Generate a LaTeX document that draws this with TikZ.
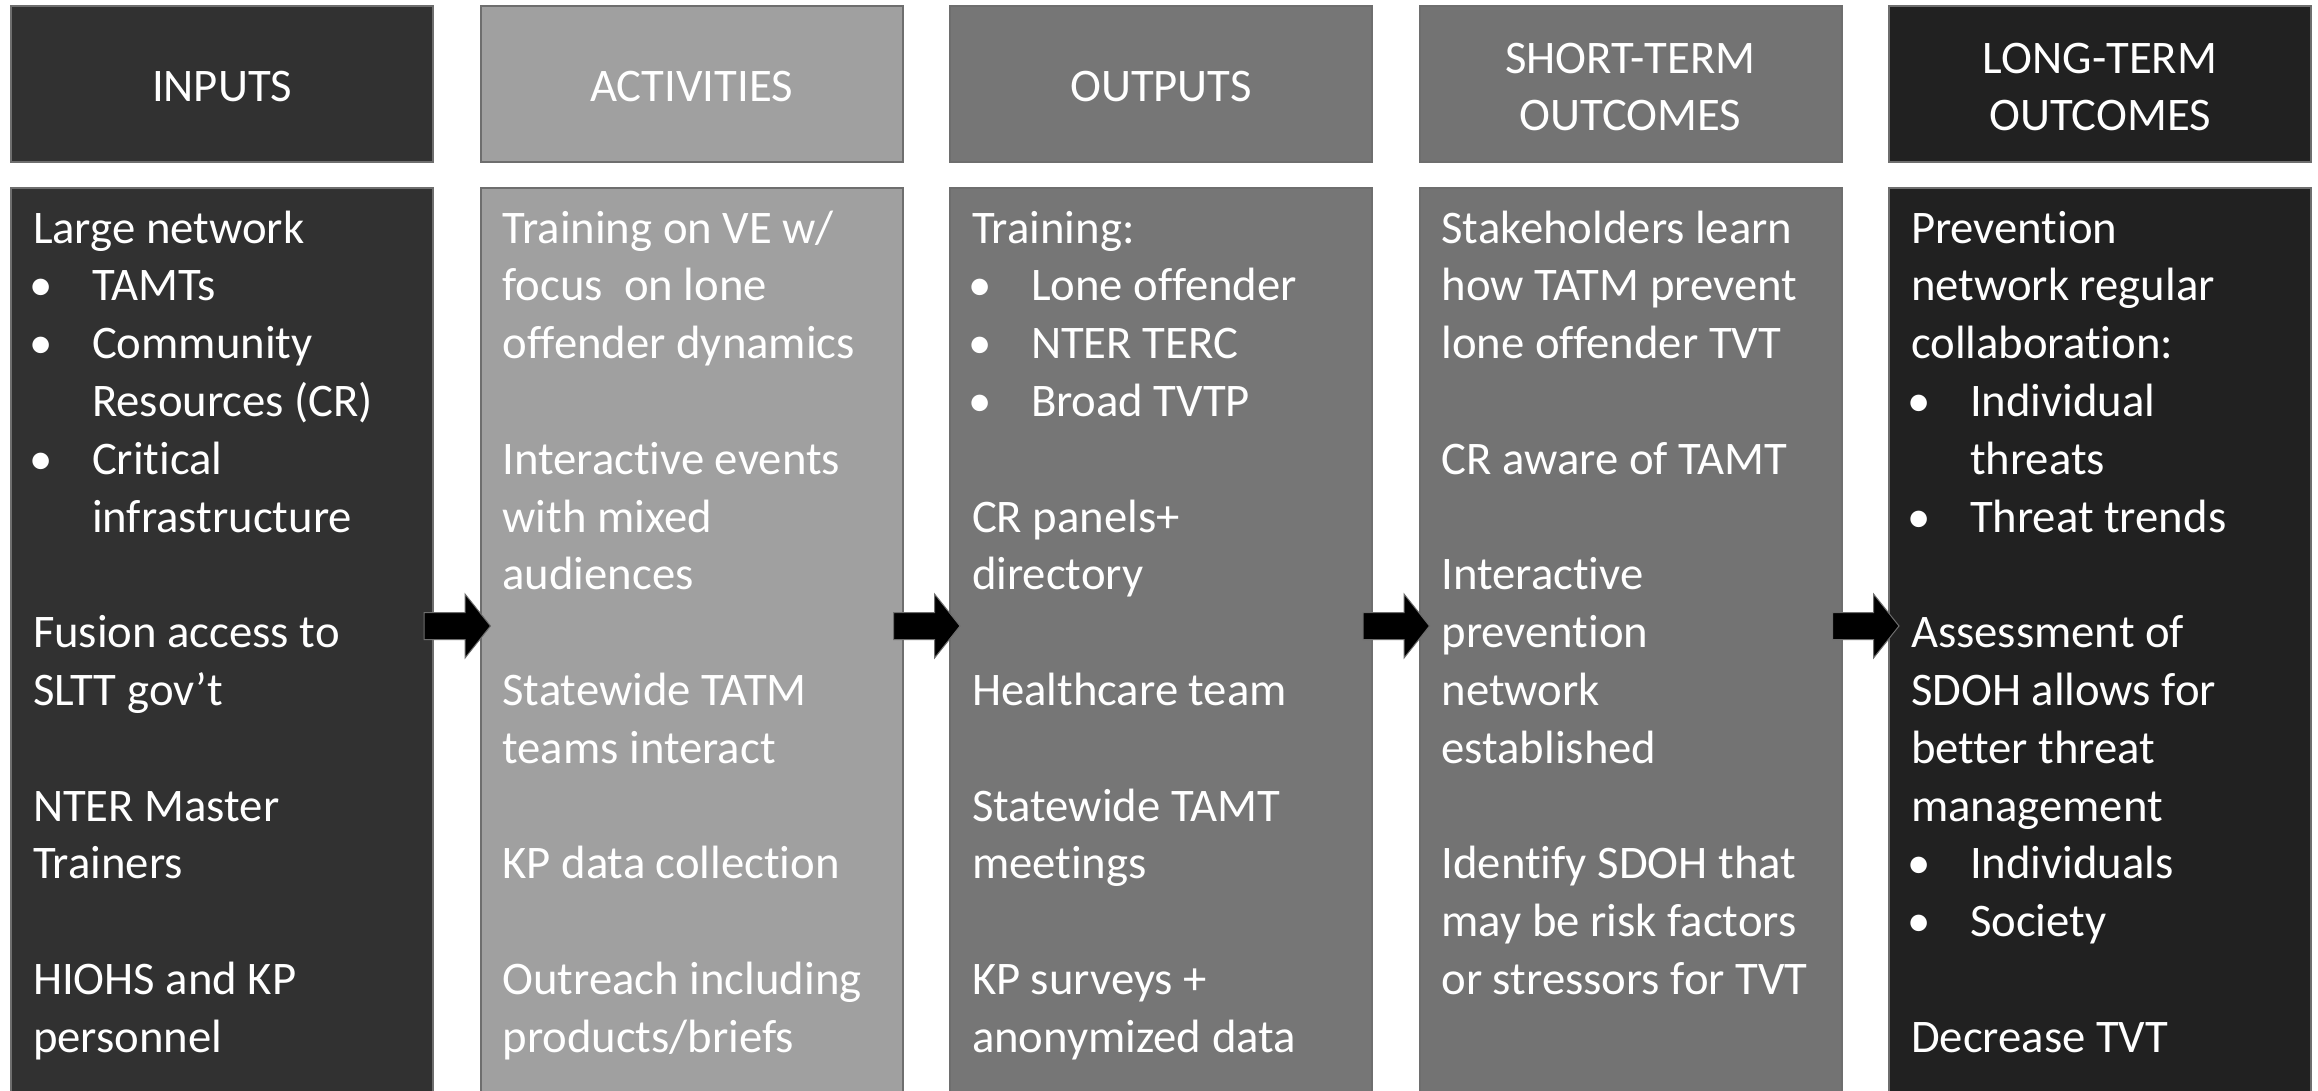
\documentclass[tikz,border=0pt]{standalone}
\usepackage{fontspec}
\setmainfont{Carlito}[Ligatures=NoCommon]
\usetikzlibrary{calc}
\definecolor{cIn}{HTML}{313131}
\definecolor{cAct}{HTML}{A0A0A0}
\definecolor{cOut}{HTML}{767676}
\definecolor{cSt}{HTML}{737373}
\definecolor{cLt}{HTML}{212121}
\definecolor{cBd}{HTML}{6E6E6E}
\newcommand\myfont{\fontsize{46.7}{57.8}\selectfont}
% plain line: column, line index, text
\newcommand\Tx[3]{\node[txt] (t#1-#2) at ($(b#1.north west)+(22,55+57.8*#2)$) {#3};}
% continuation (indented) line
\newcommand\Cx[3]{\node[txt] (t#1-#2) at ($(b#1.north west)+(81,55+57.8*#2)$) {#3};}
% bullet line
\newcommand\Bx[3]{\node[txt] (u#1-#2) at ($(b#1.north west)+(18,55+57.8*#2)$) {•};
  \node[txt] (t#1-#2) at ($(b#1.north west)+(81,55+57.8*#2)$) {#3};}
\begin{document}
\begin{tikzpicture}[x=1pt,y=-1pt,
  box/.style={draw=cBd, line width=2pt, anchor=north west, minimum width=422pt, inner sep=0pt, outer sep=0pt},
  head/.style={box, minimum height=156pt},
  htxt/.style={text=white, align=center, inner sep=0pt, outer sep=0pt, font=\myfont},
  body/.style={box, minimum height=940pt},
  txt/.style={anchor=base west, inner sep=0pt, outer sep=0pt, text=white, font=\myfont},
  barrow/.style={fill=black, draw=cBd, line width=1pt, line join=miter}]
\useasboundingbox (0,0) rectangle (2318,1090);
\clip (0,0) rectangle (2318,1090);
\fill[white] (0,0) rectangle (2318,1090);

% headers
\node[head, fill=cIn]  (h1) at (11,6)     {};
\node[head, fill=cAct] (h2) at (480.5,6)  {};
\node[head, fill=cOut] (h3) at (950,6)    {};
\node[head, fill=cSt]  (h4) at (1419.5,6) {};
\node[head, fill=cLt]  (h5) at (1889,6)   {};
\node[htxt] (l1) at ($(h1.center)+(0,3)$) {INPUTS};
\node[htxt] (l2) at ($(h2.center)+(0,3)$) {ACTIVITIES};
\node[htxt] (l3) at ($(h3.center)+(0,3)$) {OUTPUTS};
\node[htxt] (l4) at ($(h4.center)+(0,3)$) {SHORT-TERM\\OUTCOMES};
\node[htxt] (l5) at ($(h5.center)+(0,3)$) {LONG-TERM\\OUTCOMES};

% bodies
\node[body, fill=cIn]  (b1) at (11,188)     {};
\node[body, fill=cAct] (b2) at (480.5,188)  {};
\node[body, fill=cOut] (b3) at (950,188)    {};
\node[body, fill=cSt]  (b4) at (1419.5,188) {};
\node[body, fill=cLt]  (b5) at (1889,188)   {};

% INPUTS
\Tx{1}{0}{Large network}
\Bx{1}{1}{TAMTs}
\Bx{1}{2}{Community}
\Cx{1}{3}{Resources (CR)}
\Bx{1}{4}{Critical}
\Cx{1}{5}{infrastructure}
\Tx{1}{7}{Fusion access to}
\Tx{1}{8}{SLTT gov’t}
\Tx{1}{10}{NTER Master}
\Tx{1}{11}{Trainers}
\Tx{1}{13}{HIOHS and KP}
\Tx{1}{14}{personnel}

% ACTIVITIES
\Tx{2}{0}{Training on VE w/}
\Tx{2}{1}{focus\ \ on lone}
\Tx{2}{2}{offender dynamics}
\Tx{2}{4}{Interactive events}
\Tx{2}{5}{with mixed}
\Tx{2}{6}{audiences}
\Tx{2}{8}{Statewide TATM}
\Tx{2}{9}{teams interact}
\Tx{2}{11}{KP data collection}
\Tx{2}{13}{Outreach including}
\Tx{2}{14}{products/briefs}

% OUTPUTS
\Tx{3}{0}{Training:}
\Bx{3}{1}{Lone offender}
\Bx{3}{2}{NTER TERC}
\Bx{3}{3}{Broad TVTP}
\Tx{3}{5}{CR panels+}
\Tx{3}{6}{directory}
\Tx{3}{8}{Healthcare team}
\Tx{3}{10}{Statewide TAMT}
\Tx{3}{11}{meetings}
\Tx{3}{13}{KP surveys +}
\Tx{3}{14}{anonymized data}

% SHORT-TERM OUTCOMES
\Tx{4}{0}{Stakeholders learn}
\Tx{4}{1}{how TATM prevent}
\Tx{4}{2}{lone offender TVT}
\Tx{4}{4}{CR aware of TAMT}
\Tx{4}{6}{Interactive}
\Tx{4}{7}{prevention}
\Tx{4}{8}{network}
\Tx{4}{9}{established}
\Tx{4}{11}{Identify SDOH that}
\Tx{4}{12}{may be risk factors}
\Tx{4}{13}{or stressors for TVT}

% LONG-TERM OUTCOMES
\Tx{5}{0}{Prevention}
\Tx{5}{1}{network regular}
\Tx{5}{2}{collaboration:}
\Bx{5}{3}{Individual}
\Cx{5}{4}{threats}
\Bx{5}{5}{Threat trends}
\Tx{5}{7}{Assessment of}
\Tx{5}{8}{SDOH allows for}
\Tx{5}{9}{better threat}
\Tx{5}{10}{management}
\Bx{5}{11}{Individuals}
\Bx{5}{12}{Society}
\Tx{5}{14}{Decrease TVT}

% block arrows between columns
\foreach \a/\b in {b1/b2, b2/b3, b3/b4, b4/b5}{
  \draw[barrow] ($(\a.north east)+(-9,424.5)$) -- ($(\a.north east)+(32,424.5)$)
    -- ($(\a.north east)+(32,406)$) -- ($(\b.north west)+(10,438)$)
    -- ($(\a.north east)+(32,470)$) -- ($(\a.north east)+(32,451.5)$)
    -- ($(\a.north east)+(-9,451.5)$) -- cycle;
}
\end{tikzpicture}
\end{document}
